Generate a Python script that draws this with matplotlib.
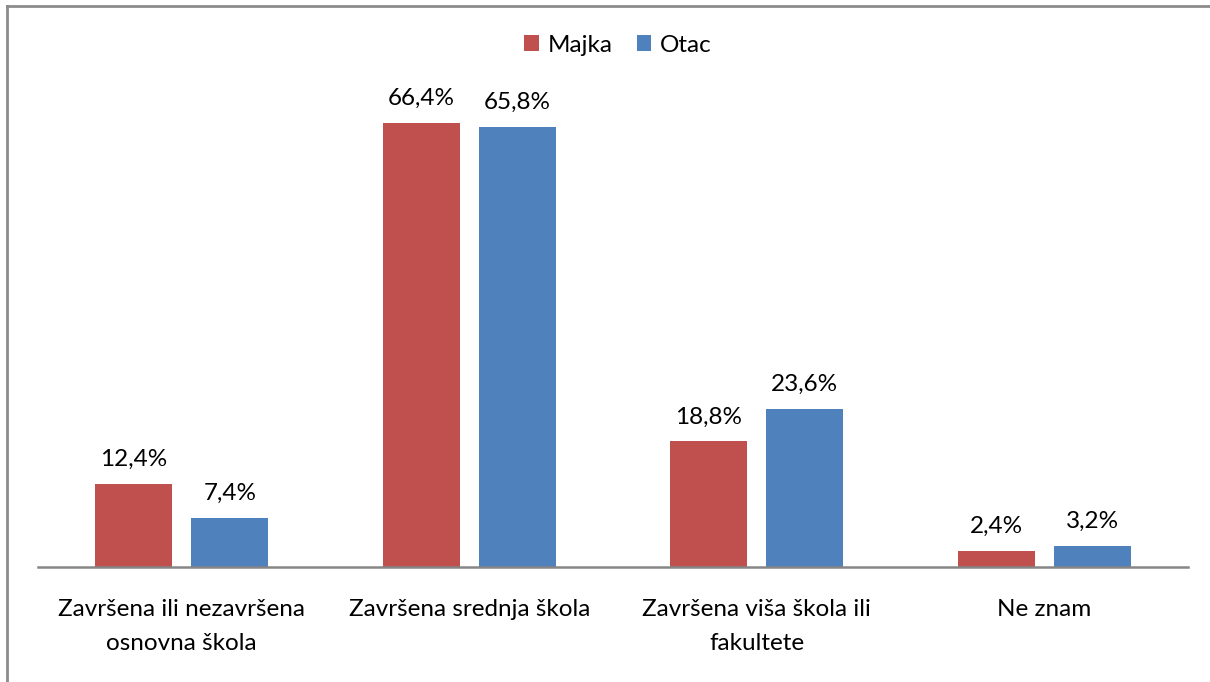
import matplotlib
matplotlib.use("Agg")
import matplotlib.pyplot as plt
from matplotlib.lines import Line2D
import numpy as np

categories = ["Završena ili nezavršena\nosnovna škola", "Završena srednja škola",
              "Završena viša škola ili\nfakultete", "Ne znam"]
majka = [12.4, 66.4, 18.8, 2.4]
otac = [7.4, 65.8, 23.6, 3.2]
series_names = ["Majka", "Otac"]
colors = ["#C0504D", "#4F81BD"]

plt.rcParams['font.family'] = ['Lato', 'DejaVu Sans']
FS = 17.5

W, H = 1210, 682
fig = plt.figure(figsize=(W/100, H/100), dpi=100)
ax = fig.add_axes([38/W, 1-567/H, (1188-38)/W, (567-99)/H])

x = np.arange(len(categories))
bw = 0.268
off = (bw + 0.066) / 2
b1 = ax.bar(x - off, majka, bw, color=colors[0], label=series_names[0])
b2 = ax.bar(x + off, otac, bw, color=colors[1], label=series_names[1])

for bars, vals in ((b1, majka), (b2, otac)):
    for r, v in zip(bars, vals):
        ax.annotate(f"{v:.1f}%".replace(".", ","), (r.get_x() + r.get_width()/2, v),
                    xytext=(0, 10), textcoords="offset points", ha="center", va="bottom",
                    fontsize=FS, color="black")

ax.set_xlim(-0.5, len(categories) - 0.5)
ax.set_ylim(0, 70)
ax.set_yticks([])
ax.set_xticks(x)
ax.set_xticklabels(categories, fontsize=FS, linespacing=1.75)
ax.tick_params(axis='x', length=0, pad=23)
for s in ("top", "right", "left"):
    ax.spines[s].set_visible(False)
ax.spines["bottom"].set_color("#868686")
ax.spines["bottom"].set_linewidth(1.8)

fig.legend(handles=[b1, b2], labels=series_names, loc="center", bbox_to_anchor=(618/W, 1-45/H),
           ncol=2, frameon=False, fontsize=FS, handlelength=0.6, handleheight=0.6,
           handletextpad=0.35, columnspacing=1.0)

fig.add_artist(Line2D([7/W, 1.0], [1-6/H, 1-6/H], color="#8C8C8C", lw=2, transform=fig.transFigure))
fig.add_artist(Line2D([7/W, 7/W], [0, 1-6/H], color="#8C8C8C", lw=2, transform=fig.transFigure))

fig.savefig("out.png", dpi=100)
